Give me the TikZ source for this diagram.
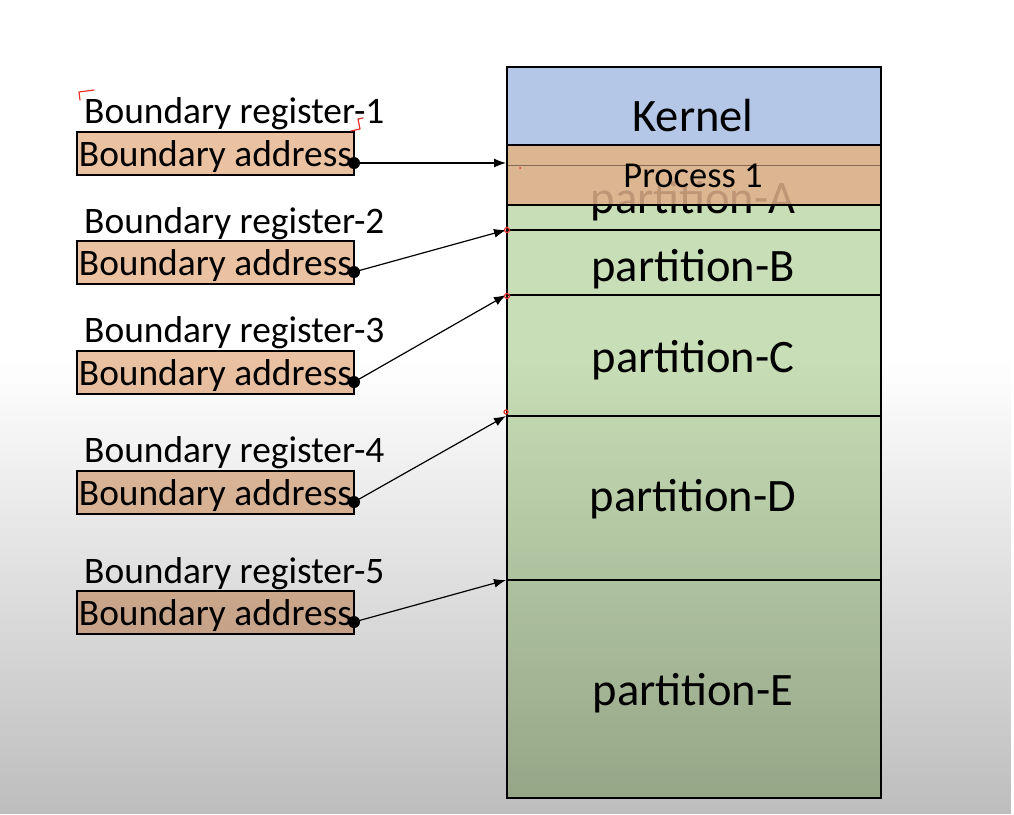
\documentclass[tikz,border=0pt]{standalone}
\usepackage{fontspec}
\setmainfont{Carlito}
\usetikzlibrary{arrows.meta,fadings}
\definecolor{kblue}{HTML}{B4C7E6}
\definecolor{pgreen}{HTML}{C8DEB6}
\definecolor{porange}{HTML}{E0B08A}
\definecolor{borange}{HTML}{EAC1A1}
\definecolor{annot}{HTML}{E8332A}
\tikzset{
  reglabel/.style={anchor=base west, inner sep=0pt, font=\fontsize{37.4}{40}\selectfont},
  addrbox/.style={draw=black, line width=1.3pt, fill=borange, minimum width=277pt, minimum height=43pt, inner sep=0pt, text height=33pt, text depth=8pt, font=\fontsize{37.4}{40}\selectfont},
  memlabel/.style={anchor=base, inner sep=0pt, font=\fontsize{46.5}{50}\selectfont},
  proclabel/.style={anchor=base, inner sep=0pt, font=\fontsize{36.5}{40}\selectfont},
  dotnode/.style={circle, fill=black, minimum size=12pt, inner sep=0pt},
  ptr/.style={line width=1.2pt, -{Latex[length=12pt,width=9pt]}},
  memcell/.style={draw=black, line width=1.3pt},
  annotmark/.style={draw=annot, line width=1.2pt, line cap=round, line join=round}
}
\begin{document}
\begin{tikzpicture}[x=1pt,y=-1pt]
\useasboundingbox (0,0) rectangle (1014,814);
\fill[white] (0,0) rectangle (1014,814);

% memory column
\filldraw[memcell, fill=kblue] (507,67) rectangle (881,145);
\filldraw[memcell, fill=pgreen] (507,145) rectangle (881,230);
\filldraw[memcell, fill=pgreen] (507,230) rectangle (881,295);
\filldraw[memcell, fill=pgreen] (507,295) rectangle (881,416);
\filldraw[memcell, fill=pgreen] (507,416) rectangle (881,580);
\filldraw[memcell, fill=pgreen] (507,580) rectangle (881,798);

\node[memlabel] (kernel) at (693,131) {Kernel};
\node[memlabel] (pA) at (693,213) {partition-A};
\node[memlabel] (pB) at (693,281) {partition-B};
\node[memlabel] (pC) at (693,372) {partition-C};
\node[memlabel] (pD) at (693,511) {partition-D};
\node[memlabel] (pE) at (693,705) {partition-E};

% process 1 overlay
\fill[porange, opacity=0.85] (507,145) rectangle (881,205);
\draw[black!40!porange, line width=0.6pt] (507,165) -- (881,165);
\draw[black, line width=2.4pt] (507,145) rectangle (881,205);
\node[proclabel] (proc) at (693,187) {Process 1};

% boundary registers
\node[reglabel] (r1) at (84,123) {Boundary register-1};
\node[reglabel] (r2) at (84,233) {Boundary register-2};
\node[reglabel] (r3) at (84,342) {Boundary register-3};
\node[reglabel] (r4) at (84,462) {Boundary register-4};
\node[reglabel] (r5) at (84,583) {Boundary register-5};

\node[addrbox] (a1) at (215.5,153.5) {Boundary address};
\node[addrbox] (a2) at (215.5,262.5) {Boundary address};
\node[addrbox] (a3) at (215.5,372.5) {Boundary address};
\node[addrbox] (a4) at (215.5,492.5) {Boundary address};
\node[addrbox] (a5) at (215.5,612.5) {Boundary address};

\node[dotnode] (d1) at (354,163) {};
\node[dotnode] (d2) at (354,272) {};
\node[dotnode] (d3) at (354,382) {};
\node[dotnode] (d4) at (354,502) {};
\node[dotnode] (d5) at (354,622) {};

\coordinate (t1) at (506,163);
\coordinate (t2) at (506,230);
\coordinate (t3) at (506,295);
\coordinate (t4) at (506,416);
\coordinate (t5) at (506,580);

\draw[ptr] (d1.center) -- (t1);
\draw[ptr] (d2.center) -- (t2);
\draw[ptr] (d3.center) -- (t3);
\draw[ptr] (d4.center) -- (t4);
\draw[ptr] (d5.center) -- (t5);

% hand annotations
\draw[annotmark] (80,100) -- (79,92) -- (94,90);
\draw[annotmark] (351,131) -- (360,129) -- (358,119) -- (363,118);
\draw[annotmark] (507,230) circle (2.5pt);
\draw[annotmark] (507,296) circle (2.5pt);
\draw[annotmark] (506,412) circle (2pt);
\fill[annot] (520,168) circle (1pt);

% darkening gradient
\fill[black, opacity=0.26, path fading=north] (0,360) rectangle (1014,814);
\end{tikzpicture}
\end{document}
